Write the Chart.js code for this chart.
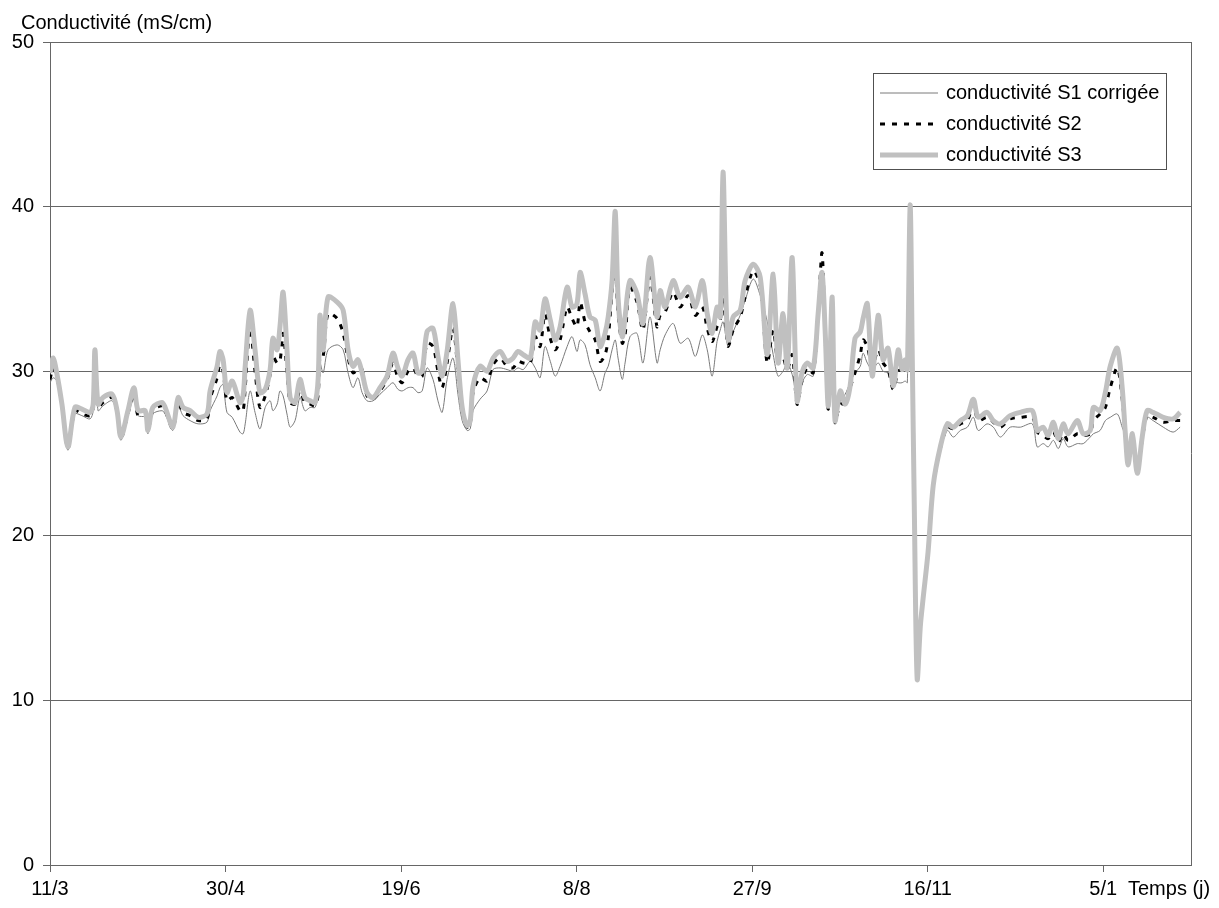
<!DOCTYPE html>
<html lang="fr">
<head>
<meta charset="utf-8">
<title>Conductivité</title>
<script src="https://cdn.jsdelivr.net/npm/chart.js@4.4.1/dist/chart.umd.min.js"></script>
<style>
  html, body { margin: 0; padding: 0; background: #fff; }
  canvas { display: block; }
</style>
</head>
<body>
<canvas id="condChart" width="1219" height="908"></canvas>
<script>
/* ── Data (x = jours depuis le 11/3) ─────────────────────────── */
const tickDays   = [0, 50, 100, 150, 200, 250, 300];
const tickLabels = ['11/3', '30/4', '19/6', '8/8', '27/9', '16/11', '5/1'];
const yTicks     = [0, 10, 20, 30, 40, 50];

const seriesNames = ['conductivité S1 corrigée', 'conductivité S2', 'conductivité S3'];

const days = [
  0, 0.9, 2.0, 3.4, 5.1, 7.1, 9.1, 11.4, 12.3, 12.8, 13.7, 15.1, 17.7, 19.1, 20.2, 22.2,
  23.9, 25.1, 27.1, 27.9, 29.3, 31.9, 32.8, 35.0, 36.5, 37.9, 39.9, 42.2, 44.7, 45.6, 47.6,
  48.4, 49.3, 50.4, 51.9, 54.1, 55.0, 55.6, 57.0, 58.4, 59.8, 61.3, 62.7, 63.5, 64.7, 65.5,
  66.4, 67.5, 68.4, 69.8, 71.2, 72.6, 74.1, 75.5, 76.4, 76.9, 77.8, 79.2, 81.8, 83.5, 84.9,
  86.3, 87.7, 88.9, 90.3, 92.0, 94.0, 96.0, 97.7, 99.1, 100.3, 102.0, 103.4, 104.8, 106.0,
  107.4, 109.1, 110.5, 111.7, 113.1, 114.8, 116.2, 117.4, 118.8, 119.7, 120.5, 122.5, 124.5,
  126.2, 128.2, 130.2, 131.9, 133.3, 134.8, 136.8, 138.2, 139.6, 141.0, 142.5, 143.9, 145.3,
  147.3, 148.7, 150.1, 151.0, 152.4, 153.8, 155.3, 156.7, 158.1, 159.0, 160.1, 161.0, 161.8,
  163.0, 163.8, 165.2, 167.2, 168.9, 170.9, 172.9, 173.8, 175.2, 177.5, 179.5, 181.8, 183.8,
  185.8, 187.2, 188.6, 190.0, 190.9, 191.7, 192.6, 193.2, 194.6, 196.6, 198.0, 200.3, 202.3,
  204.3, 206.0, 207.4, 208.8, 210.0, 211.4, 212.8, 214.2, 215.7, 217.4, 218.8, 219.9, 220.8,
  221.7, 222.8, 223.6, 225.1, 226.5, 227.9, 229.3, 230.8, 231.6, 232.8, 234.2, 235.9, 237.3,
  238.7, 240.2, 241.6, 242.7, 243.6, 244.2, 245.0, 245.6, 246.2, 247.0, 247.9, 248.7, 250.1,
  251.6, 253.6, 255.6, 257.3, 259.3, 261.3, 263.0, 264.4, 266.9, 268.7, 270.7, 273.5, 276.4,
  279.8, 281.2, 282.9, 284.3, 285.8, 287.2, 288.6, 290.0, 292.6, 294.3, 296.3, 297.2, 299.1,
  300.6, 302.0, 304.0, 305.4, 306.3, 307.1, 308.3, 309.7, 311.1, 312.5, 314.2, 317.1, 319.9,
  321.9
];

const s3 = [
  29.9, 30.8, 29.8, 28.0, 25.4, 27.8, 27.7, 27.5, 28.0, 31.3, 28.0, 28.4, 28.6, 27.6, 26.0, 27.6,
  29.0, 27.6, 27.6, 26.4, 27.8, 28.1, 27.8, 26.6, 28.4, 27.8, 27.6, 27.2, 27.4, 28.8, 30.3,
  31.2, 30.7, 28.7, 29.4, 28.1, 28.5, 30.3, 33.7, 31.3, 28.7, 28.9, 30.1, 32.0, 31.3, 32.7,
  34.8, 31.3, 28.4, 28.1, 29.5, 28.4, 28.2, 28.1, 29.6, 33.4, 31.3, 34.5, 34.2, 33.7, 31.3,
  30.3, 30.7, 29.9, 28.7, 28.4, 29.0, 29.7, 31.1, 30.2, 29.7, 30.7, 31.1, 29.9, 30.0,
  32.4, 32.6, 30.9, 29.7, 31.2, 34.1, 30.7, 27.8, 26.7, 27.0, 29.1, 30.3, 30.0,
  30.8, 31.2, 30.6, 30.8, 31.2, 31.0, 30.8, 33.0, 32.5, 34.4, 33.1, 31.9, 32.7,
  35.1, 33.9, 34.1, 36.0, 34.7, 33.3, 33.1, 31.5, 32.3, 33.3, 35.5, 39.7, 34.5,
  32.1, 33.3, 35.5, 34.7, 32.9, 36.9, 33.3, 34.9, 33.9, 35.5, 34.5, 35.1, 33.9,
  35.5, 33.5, 32.3, 33.9, 33.3, 42.1, 34.0, 31.9, 33.3, 33.7, 35.5, 36.5, 35.7,
  31.0, 35.9, 30.5, 33.5, 30.2, 36.9, 28.2, 29.9, 30.5, 30.2, 33.5, 36.0, 32.4,
  27.9, 34.5, 27.0, 28.8, 28.0, 29.1, 32.0, 32.4, 33.2, 34.1, 29.7, 33.4, 30.7,
  31.4, 29.1, 31.3, 30.1, 30.7, 30.1, 40.1, 31.0, 21.5, 11.3, 14.5, 16.2, 19.0,
  23.1, 25.4, 26.8, 26.6, 27.0, 27.3, 28.3, 27.2, 27.5, 27.0, 26.8, 27.3, 27.5,
  27.6, 26.4, 26.6, 26.1, 26.9, 25.9, 26.8, 26.2, 27.0, 26.2, 26.4, 27.8, 27.6,
  28.7, 30.3, 31.4, 29.0, 26.2, 24.3, 26.2, 23.8, 26.0, 27.6, 27.5, 27.2, 27.1,
  27.5
];

const s2 = [
  29.5, 30.2, 29.6, 27.9, 25.3, 27.6, 27.4, 27.3, 27.8, 30.9, 27.8, 28.1, 28.4, 27.5, 25.9, 27.4,
  28.6, 27.3, 27.4, 26.3, 27.6, 27.9, 27.6, 26.5, 28.1, 27.5, 27.3, 27.0, 27.1, 28.3, 29.6,
  30.4, 30.0, 28.2, 28.4, 27.6, 27.6, 29.0, 32.6, 30.0, 27.8, 28.5, 29.8, 30.9, 30.5, 30.6,
  32.3, 30.0, 28.1, 28.0, 28.8, 28.1, 28.0, 27.9, 28.6, 30.9, 30.9, 33.5, 33.2, 32.3, 30.8,
  29.9, 30.1, 30.1, 28.5, 28.3, 28.8, 29.5, 30.5, 29.6, 29.3, 30.0, 30.2, 29.7, 29.7,
  31.7, 31.5, 30.0, 29.0, 30.5, 32.6, 30.0, 27.5, 26.6, 26.8, 28.7, 29.6, 29.4,
  30.4, 30.8, 30.3, 30.2, 30.6, 30.5, 30.5, 32.1, 31.5, 33.5, 32.0, 31.3, 31.9,
  33.9, 33.2, 32.7, 34.2, 33.0, 32.4, 31.9, 30.6, 31.0, 32.0, 34.8, 36.2, 33.5,
  31.7, 32.2, 35.1, 34.2, 32.5, 35.7, 32.7, 33.4, 33.6, 34.8, 33.9, 34.6, 33.4,
  33.9, 32.6, 31.8, 32.7, 33.1, 34.5, 32.5, 31.5, 32.5, 33.3, 34.5, 36.1, 35.2,
  30.5, 32.5, 30.5, 30.8, 30.1, 31.0, 28.0, 29.4, 30.2, 29.9, 33.5, 37.2, 32.0,
  27.7, 33.5, 26.9, 28.0, 28.0, 29.0, 29.9, 31.0, 31.9, 31.5, 30.3, 31.3, 30.5,
  30.1, 28.9, 30.0, 30.1, 30.2, 30.2, 39.6, 31.0, 21.5, 11.3, 14.5, 16.2, 18.9,
  23.0, 25.3, 26.6, 26.5, 26.8, 27.0, 28.0, 27.0, 27.2, 26.9, 26.6, 27.1, 27.2,
  27.2, 26.3, 26.1, 25.9, 26.3, 25.7, 26.2, 25.8, 26.2, 26.1, 26.2, 27.0, 27.4,
  27.8, 29.0, 30.2, 28.3, 26.2, 24.4, 26.0, 23.9, 25.8, 27.3, 27.2, 26.9, 27.0,
  27.0
];

const s1 = [
  29.3, 29.6, 29.4, 27.7, 25.2, 27.4, 27.3, 27.1, 27.6, 30.5, 27.6, 27.9, 28.2, 27.3, 25.8, 27.3,
  28.3, 27.3, 27.2, 26.2, 27.4, 27.6, 27.4, 26.4, 27.9, 27.3, 27.0, 26.8, 26.9, 27.6, 28.5,
  29.0, 29.2, 27.5, 27.2, 26.3, 26.2, 26.8, 28.8, 27.5, 26.5, 27.8, 28.2, 27.6, 28.0, 28.8,
  28.5, 27.4, 26.6, 27.0, 28.4, 27.6, 27.8, 27.8, 28.6, 30.5, 29.9, 31.3, 31.6, 31.3, 29.9,
  29.0, 29.6, 28.7, 28.2, 28.2, 28.6, 29.0, 29.3, 28.9, 28.8, 29.0, 29.0, 28.7, 28.8,
  30.2, 29.5, 28.2, 27.5, 29.5, 30.8, 28.6, 27.0, 26.4, 26.5, 27.6, 28.3, 28.8,
  30.1, 30.2, 30.1, 30.0, 30.2, 30.1, 30.6, 30.2, 29.6, 31.5, 30.6, 29.7, 30.3,
  31.5, 32.1, 31.2, 31.9, 31.6, 30.4, 29.6, 28.8, 29.9, 30.3, 31.3, 31.9, 30.8,
  29.5, 30.5, 32.1, 32.3, 30.5, 33.3, 30.5, 31.3, 32.2, 32.9, 31.7, 32.0, 30.9,
  32.2, 31.3, 29.7, 31.8, 32.5, 33.0, 32.0, 31.5, 32.4, 33.4, 34.3, 35.6, 34.6,
  33.0, 31.0, 29.7, 30.0, 30.5, 29.8, 28.5, 29.3, 29.8, 29.7, 32.8, 35.0, 31.5,
  27.7, 32.0, 27.0, 28.2, 28.6, 29.3, 29.9, 30.3, 31.1, 30.5, 30.1, 30.5, 30.0,
  29.9, 29.5, 29.3, 29.3, 29.4, 29.3, 39.0, 30.8, 21.4, 11.3, 14.4, 16.1, 18.8,
  22.8, 25.1, 26.4, 26.0, 26.4, 26.6, 27.2, 26.4, 26.8, 26.6, 26.0, 26.6, 26.6,
  26.8, 25.4, 25.6, 25.4, 25.8, 25.3, 25.9, 25.4, 25.6, 25.6, 26.0, 26.2, 26.4,
  27.0, 27.2, 27.4, 26.6, 26.0, 24.4, 25.5, 24.0, 25.6, 27.2, 27.0, 26.6, 26.3,
  26.6
];

/* ── Styles ──────────────────────────────────────────────────── */
const FONT = '"Liberation Sans", Arial, sans-serif';
const AXIS_GREY = '#666666';

Chart.defaults.font.family = FONT;
Chart.defaults.font.size = 20;
Chart.defaults.color = '#000';

const toPoints = values => values.map((v, i) => ({ x: days[i], y: v }));

/* ── Decorations: titre d'axe, bordure droite, légende encadrée ─ */
const decorPlugin = {
  id: 'decor',
  afterDraw(chart) {
    const { ctx, chartArea } = chart;
    ctx.save();

    // right border of the plot area
    ctx.strokeStyle = AXIS_GREY;
    ctx.lineWidth = 1;
    ctx.beginPath();
    ctx.moveTo(Math.round(chartArea.right) + 0.5, chartArea.top);
    ctx.lineTo(Math.round(chartArea.right) + 0.5, chartArea.bottom);
    ctx.stroke();

    // axis titles
    ctx.fillStyle = '#000';
    ctx.font = `20px ${FONT}`;
    ctx.textAlign = 'left';
    ctx.textBaseline = 'alphabetic';
    ctx.fillText('Conductivité (mS/cm)', 21, 29);
    ctx.textBaseline = 'middle';
    ctx.fillText('Temps (j)', 1128, 889);

    // legend box
    const box = { x: 873.5, y: 73.5, w: 293, h: 96 };
    ctx.fillStyle = '#fff';
    ctx.fillRect(box.x, box.y, box.w, box.h);
    ctx.strokeStyle = '#505050';
    ctx.strokeRect(box.x, box.y, box.w, box.h);

    const rowY = [93, 124, 155];
    chart.data.datasets.forEach((ds, i) => {
      ctx.save();
      ctx.strokeStyle = ds.borderColor;
      ctx.lineWidth = ds.borderWidth;
      ctx.setLineDash(ds.borderDash || []);
      ctx.beginPath();
      ctx.moveTo(880, rowY[i]);
      ctx.lineTo(938, rowY[i]);
      ctx.stroke();
      ctx.restore();
      ctx.fillStyle = '#000';
      ctx.textBaseline = 'middle';
      ctx.fillText(ds.label, 946, rowY[i]);
    });

    ctx.restore();
  },
};

/* ── Chart ───────────────────────────────────────────────────── */
const ctx = document.getElementById('condChart').getContext('2d');
new Chart(ctx, {
  type: 'line',
  data: {
    datasets: [
      {
        label: seriesNames[0],
        data: toPoints(s1),
        borderColor: '#7a7a7a',
        borderWidth: 1,
        order: 2,
      },
      {
        label: seriesNames[1],
        data: toPoints(s2),
        borderColor: '#000',
        borderWidth: 3,
        borderDash: [5, 7],
        order: 1,
      },
      {
        label: seriesNames[2],
        data: toPoints(s3),
        borderColor: '#c0c0c0',
        borderWidth: 5,
        order: 0,
      },
    ],
  },
  options: {
    responsive: false,
    animation: false,
    devicePixelRatio: 1,
    elements: {
      point: { radius: 0 },
      line: { tension: 0.3, borderCapStyle: 'butt', borderJoinStyle: 'round' },
    },
    layout: { padding: { top: 42, right: 28, left: 0, bottom: 0 } },
    plugins: {
      legend: { display: false },
      tooltip: { enabled: false },
    },
    scales: {
      x: {
        type: 'linear',
        min: 0,
        max: 325,
        afterBuildTicks: scale => { scale.ticks = tickDays.map(value => ({ value })); },
        afterFit: scale => { scale.height = 43; },
        ticks: {
          autoSkip: false,
          maxRotation: 0,
          padding: 5,
          callback: value => tickLabels[tickDays.indexOf(value)],
        },
        grid: { drawOnChartArea: false, tickLength: 7, color: AXIS_GREY },
        border: { color: AXIS_GREY },
      },
      y: {
        min: 0,
        max: 50,
        afterBuildTicks: scale => { scale.ticks = yTicks.map(value => ({ value })); },
        afterFit: scale => { scale.width = 50; },
        ticks: { padding: 9 },
        grid: { color: AXIS_GREY, tickLength: 7 },
        border: { color: AXIS_GREY },
      },
    },
  },
  plugins: [decorPlugin],
});
</script>
</body>
</html>
